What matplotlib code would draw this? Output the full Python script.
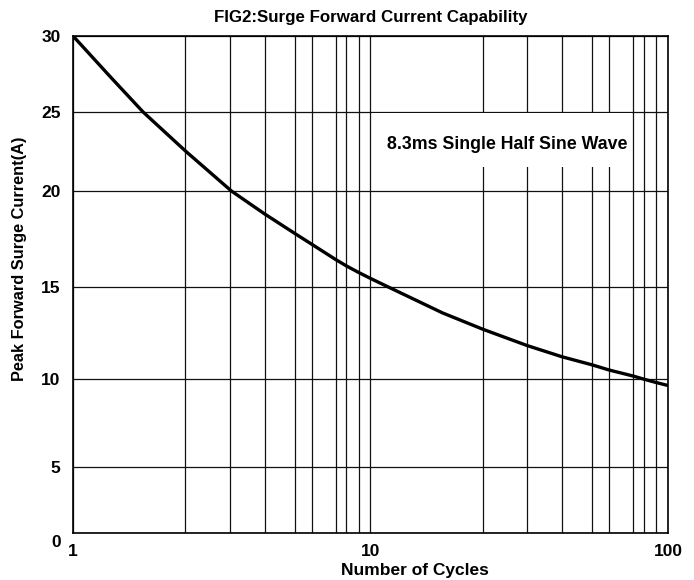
import numpy as np
import matplotlib
matplotlib.use("Agg")
import matplotlib.pyplot as plt
import matplotlib.transforms as mtransforms
from matplotlib.ticker import FixedLocator, NullFormatter
from matplotlib.patches import Rectangle

plt.rcParams['font.family'] = ['Liberation Sans', 'DejaVu Sans']
plt.rcParams['font.weight'] = 'bold'

# Curve
cycles = [1, 1.26, 1.54, 2, 3.04, 4, 5, 6, 7, 8, 9, 10, 11.2, 15.6,
          20, 30, 40, 50, 60, 70, 80, 90, 100]
current = [30, 27.3, 25, 22.53, 20, 18.81, 17.8, 17.24, 16.44, 16.11, 15.77, 15.46, 15, 13.6,
           12.71, 11.82, 11.21, 10.77, 10.49, 10.16, 9.99, 9.8, 9.63]

x_ticks = [1, 10, 100]
x_ticklabels = ['1', '10', '100']
x_minor = [m * d for d in (1, 10) for m in range(2, 10)]
y_ticks = [0, 5, 10, 15, 20, 25, 30]

# The printed "log paper" is not a true log scale: where each grid line
# sits inside a decade (fraction of a decade) ...
decade_frac = [0, .378, .527, .644, .745, .802, .883, .919, .960, 1.0]
# ... and the y grid is not evenly spaced either (fraction of axis height)
y_frac = [0, .1328, .3099, .4944, .6881, .8471, 1.0]

x_knots = [-3] + list(np.log10(range(1, 11))) + list(np.log10(range(20, 101, 10))) + [5]
x_pos = [-3] + decade_frac + [1 + f for f in decade_frac[1:]] + [5]
y_knots = [-1000] + y_ticks + [1000]
y_pos = [-1000 * y_frac[1] / 5] + y_frac + [1 + 970 * (1 - y_frac[-2]) / 5]


def x_fwd(x):
    x = np.clip(np.asarray(x, dtype=float), 1e-3, 1e5)
    return np.interp(np.log10(x), x_knots, x_pos)


def x_inv(p):
    return 10 ** np.interp(np.asarray(p, dtype=float), x_pos, x_knots)


def y_fwd(y):
    return np.interp(np.asarray(y, dtype=float), y_knots, y_pos)


def y_inv(p):
    return np.interp(np.asarray(p, dtype=float), y_pos, y_knots)


fig = plt.figure(figsize=(6.94, 5.8), dpi=100)
ax = fig.add_axes([0.1052, 0.081, 0.8573, 0.857])

ax.set_xscale('function', functions=(x_fwd, x_inv))
ax.set_yscale('function', functions=(y_fwd, y_inv))
ax.set_xlim(1, 100)
ax.set_ylim(0, 30)

ax.plot(cycles, current, color='black', lw=2.4, solid_capstyle='round',
        solid_joinstyle='round', zorder=4)

ax.xaxis.set_major_locator(FixedLocator(x_ticks))
ax.xaxis.set_minor_locator(FixedLocator(x_minor))
ax.xaxis.set_minor_formatter(NullFormatter())
ax.set_xticklabels(x_ticklabels)
ax.yaxis.set_major_locator(FixedLocator(y_ticks))
ax.yaxis.set_minor_locator(FixedLocator([]))
ax.set_yticklabels([str(v) for v in y_ticks])

ax.grid(which='both', color='#111111', lw=0.9)
ax.set_axisbelow(True)
for s in ax.spines.values():
    s.set_linewidth(1.2)
ax.tick_params(which='both', length=0, labelsize=12.5)
ax.tick_params(axis='x', pad=8)
ax.tick_params(axis='y', pad=9)

# the "0" label sits a little below the bottom line in the original
lab0 = ax.yaxis.get_majorticklabels()[0]
lab0.set_transform(lab0.get_transform() +
                   mtransforms.ScaledTranslation(0, -0.08, fig.dpi_scale_trans))

# white-out behind the note, as on the datasheet
ax.add_patch(Rectangle((0.5025, 0.7364), 0.437, 0.1086, transform=ax.transAxes,
                       facecolor='white', edgecolor='none', zorder=2))
ax.text(0.7294, 0.7807, '8.3ms Single Half Sine Wave', transform=ax.transAxes,
        ha='center', va='center', fontsize=12.8, fontweight='bold', zorder=3)

ax.set_title('FIG2:Surge Forward Current Capability', fontsize=12.2,
             fontweight='bold', pad=10)
ax.set_xlabel('Number of Cycles', fontsize=12.5, fontweight='bold')
ax.xaxis.set_label_coords(0.575, -0.06)
ax.set_ylabel('Peak Forward Surge Current(A)', fontsize=11.8, fontweight='bold')
ax.yaxis.set_label_coords(-0.077, 0.551)

fig.savefig('out.png', dpi=100)
